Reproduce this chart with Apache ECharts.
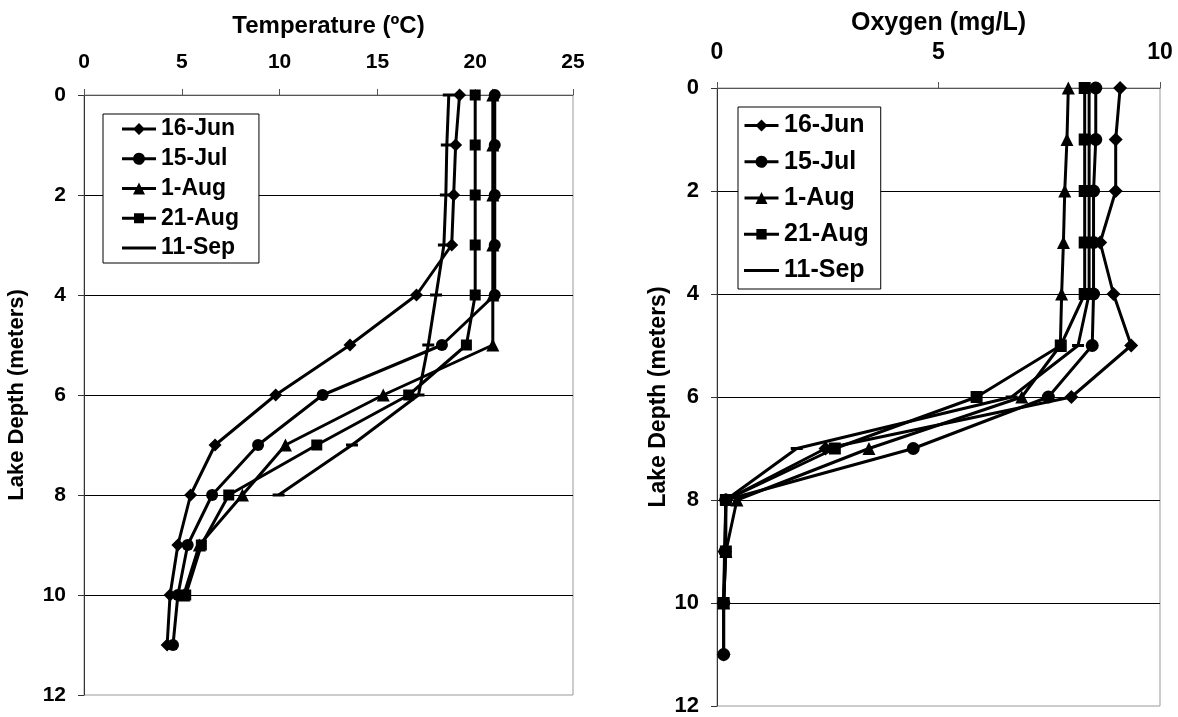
<!DOCTYPE html>
<html>
<head>
<meta charset="utf-8">
<script src="https://cdn.jsdelivr.net/npm/echarts@6/dist/echarts.min.js"></script>
<style>
html,body{margin:0;padding:0;background:#fff;}
#c{width:1178px;height:717px;}
</style>
</head>
<body>
<div id="c"></div>
<script>
// ---- data ----
var depths = [0, 1, 2, 3, 4, 5, 6, 7, 8, 9, 10, 11];
var seriesNames = ['16-Jun', '15-Jul', '1-Aug', '21-Aug', '11-Sep'];
var tempTicks = [0, 5, 10, 15, 20, 25];
var oxyTicks = [0, 5, 10];
var depthTicks = [0, 2, 4, 6, 8, 10, 12];

// Temperature (ºC) by depth
var temp16Jun = [19.2, 19.0, 18.9, 18.8, 17.0, 13.6, 9.8, 6.7, 5.45, 4.8, 4.4, 4.25];
var temp15Jul = [21.0, 21.0, 21.0, 21.0, 21.0, 18.3, 12.2, 8.9, 6.55, 5.3, 4.8, 4.55];
var temp1Aug  = [20.9, 20.9, 20.9, 20.9, 20.9, 20.9, 15.3, 10.3, 8.1, 5.9, 5.1];
var temp21Aug = [20.0, 20.0, 20.0, 20.0, 20.0, 19.55, 16.6, 11.9, 7.4, 6.0, 5.2];
var temp11Sep = [18.65, 18.55, 18.5, 18.4, 18.0, 17.6, 17.1, 13.7, 9.95];

// Oxygen (mg/L) by depth
var oxy16Jun = [9.1, 9.0, 9.0, 8.65, 8.95, 9.35, 8.0, 2.45, 0.2, 0.17, 0.15, 0.15];
var oxy15Jul = [8.55, 8.55, 8.5, 8.5, 8.5, 8.47, 7.48, 4.43, 0.2, 0.18, 0.15, 0.15];
var oxy1Aug  = [7.93, 7.9, 7.85, 7.82, 7.78, 7.75, 6.88, 3.43, 0.45, 0.2, 0.15];
var oxy21Aug = [8.3, 8.3, 8.3, 8.3, 8.3, 7.76, 5.86, 2.66, 0.2, 0.2, 0.15];
var oxy11Sep = [8.4, 8.4, 8.4, 8.4, 8.4, 8.15, 6.65, 1.8, 0.2];

// ---- build ----
var FONT = '"Liberation Sans", Arial, sans-serif';
var symbols = ['diamond', 'circle', 'triangle', 'rect', 'rect'];
var symbolSizesL = [13, 12, 13, 11, [12, 3]];
var symbolSizesR = [14, 13, 13, 12, [12, 3]];
var legendIcons = [
  'path://M0,4.5 L12.5,4.5 L17,0 L21.5,4.5 L34,4.5 L34,7.5 L21.5,7.5 L17,12 L12.5,7.5 L0,7.5 Z',
  'path://M0,4.5 L11.19,4.5 A6,6 0 0 1 22.81,4.5 L34,4.5 L34,7.5 L22.81,7.5 A6,6 0 0 1 11.19,7.5 L0,7.5 Z',
  'path://M0,4.5 L14.75,4.5 L17,0 L19.25,4.5 L34,4.5 L34,7.5 L20.75,7.5 L23,12 L11,12 L13.25,7.5 L0,7.5 Z',
  'path://M0,4.5 L12,4.5 L12,1 L22,1 L22,4.5 L34,4.5 L34,7.5 L22,7.5 L22,11 L12,11 L12,7.5 L0,7.5 Z',
  'path://M0,4.5 L34,4.5 L34,7.5 L0,7.5 Z'
];

function pairs(vals) {
  return vals.map(function (v, i) { return [v, depths[i]]; });
}

var tempSets = [temp16Jun, temp15Jul, temp1Aug, temp21Aug, temp11Sep];
var oxySets = [oxy16Jun, oxy15Jul, oxy1Aug, oxy21Aug, oxy11Sep];

var series = [];
[tempSets, oxySets].forEach(function (sets, gi) {
  sets.forEach(function (vals, si) {
    series.push({
      type: 'line',
      name: seriesNames[si],
      xAxisIndex: gi,
      yAxisIndex: gi,
      data: pairs(vals),
      symbol: symbols[si],
      symbolSize: (gi === 0 ? symbolSizesL : symbolSizesR)[si],
      showSymbol: true,
      color: '#000',
      itemStyle: { color: '#000' },
      lineStyle: { color: '#000', width: 3 },
      emphasis: { disabled: true },
      animation: false,
      z: 2 + si
    });
  });
});

function xAxis(gi, max, interval, name, nameGap, fs, nfs, margin) {
  return {
    type: 'value', gridIndex: gi, position: 'top',
    min: 0, max: max, interval: interval,
    name: name, nameLocation: 'middle', nameGap: nameGap,
    nameTextStyle: { fontFamily: FONT, fontWeight: 'bold', fontSize: nfs, color: '#000' },
    axisLine: { show: true, lineStyle: { color: '#555', width: 1 } },
    axisTick: { show: true, inside: false, length: 6, lineStyle: { color: '#555' } },
    axisLabel: { fontFamily: FONT, fontWeight: 'bold', fontSize: fs, color: '#000', margin: margin },
    splitLine: { show: false }
  };
}
function yAxis(gi, nameGap, fs, nfs) {
  return {
    type: 'value', gridIndex: gi, inverse: true,
    min: 0, max: 12, interval: 2,
    name: 'Lake Depth (meters)', nameLocation: 'middle', nameGap: nameGap,
    nameTextStyle: { fontFamily: FONT, fontWeight: 'bold', fontSize: nfs, color: '#000' },
    axisLine: { show: true, lineStyle: { color: '#333', width: 1 } },
    axisTick: { show: true, inside: false, length: 6, lineStyle: { color: '#333' } },
    axisLabel: { fontFamily: FONT, fontWeight: 'bold', fontSize: fs, color: '#000', margin: 18 },
    splitLine: { show: true, showMinLine: false, showMaxLine: false, lineStyle: { color: '#000', width: 1 } }
  };
}

function legendData() {
  return seriesNames.map(function (n, i) { return { name: n, icon: legendIcons[i] }; });
}

var option = {
  backgroundColor: '#fff',
  animation: false,
  grid: [
    { left: 84, top: 95, width: 489, height: 600, show: true, borderColor: '#999', borderWidth: 1, backgroundColor: 'transparent' },
    { left: 717, top: 88, width: 443, height: 621, show: true, borderColor: '#999', borderWidth: 1, backgroundColor: 'transparent' }
  ],
  xAxis: [
    xAxis(0, 25, 5, 'Temperature (ºC)', 57, 21, 24, 22),
    xAxis(1, 10, 5, 'Oxygen (mg/L)', 48, 23, 25, 24)
  ],
  yAxis: [
    yAxis(0, 56, 21, 22),
    yAxis(1, 41, 22, 23)
  ],
  legend: [
    {
      data: legendData(), orient: 'vertical', left: 103, top: 114,
      padding: [3, 20, 3, 19], itemWidth: 34, itemHeight: 12, itemGap: 5.75,
      symbolKeepAspect: true,
      borderColor: '#000', borderWidth: 1, backgroundColor: '#fff',
      selectedMode: false,
      itemStyle: { color: '#000', borderWidth: 0 },
      textStyle: { fontFamily: FONT, fontWeight: 'bold', fontSize: 23, color: '#000', lineHeight: 24 }
    },
    {
      data: legendData(), orient: 'vertical', left: 738, top: 107,
      padding: [5.5, 12, 5.5, 6], itemWidth: 35, itemHeight: 12, itemGap: 10.25,
      symbolKeepAspect: true,
      borderColor: '#000', borderWidth: 1, backgroundColor: '#fff',
      selectedMode: false,
      itemStyle: { color: '#000', borderWidth: 0 },
      textStyle: { fontFamily: FONT, fontWeight: 'bold', fontSize: 25, color: '#000', lineHeight: 26 }
    }
  ],
  series: series
};

var chart = echarts.init(document.getElementById('c'), null, { renderer: 'canvas' });
chart.setOption(option);
</script>
</body>
</html>
